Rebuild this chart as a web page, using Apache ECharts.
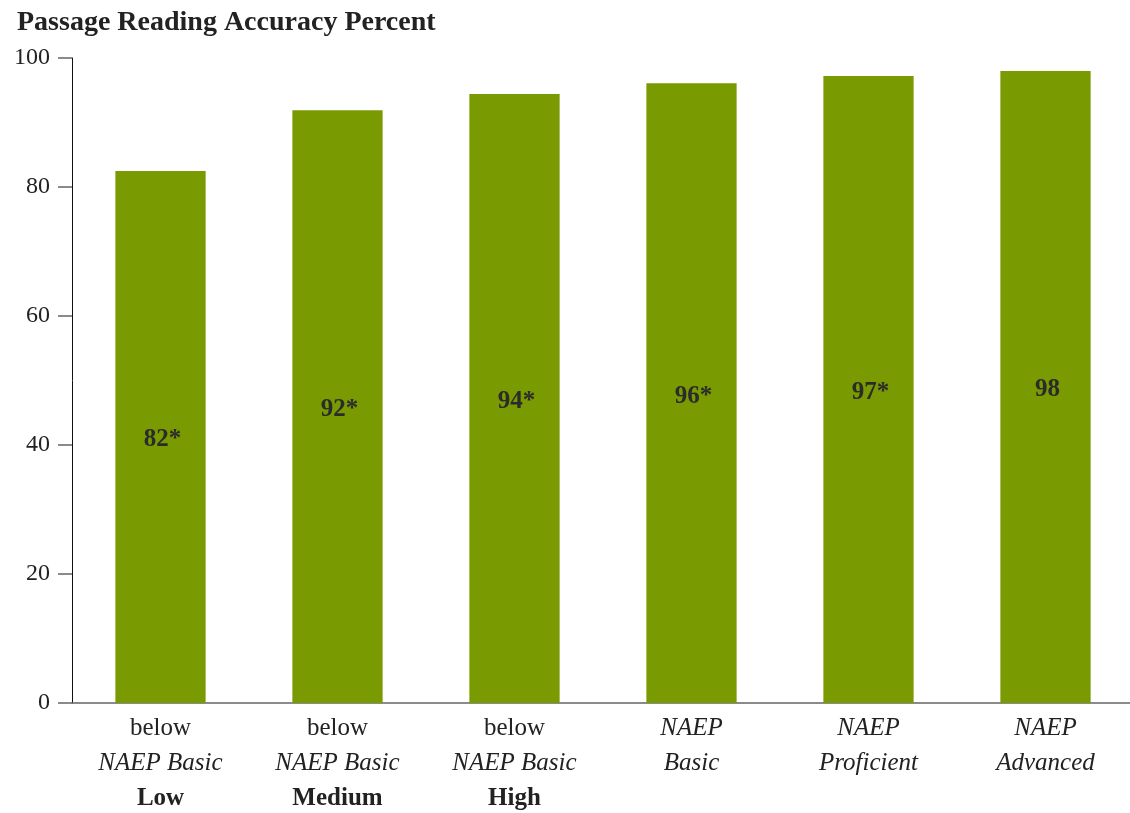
<!DOCTYPE html>
<html>
<head>
<meta charset="UTF-8">
<title>Passage Reading Accuracy Percent</title>
<script src="https://cdn.jsdelivr.net/npm/echarts@6/dist/echarts.min.js"></script>
<style>
  html, body { margin: 0; padding: 0; background: #fff; }
</style>
</head>
<body>
<div id="main" style="width:1130px;height:813px;"></div>
<script>
var categories = [
  'below\n{i|NAEP Basic}\n{b|Low}',
  'below\n{i|NAEP Basic}\n{b|Medium}',
  'below\n{i|NAEP Basic}\n{b|High}',
  '{i|NAEP}\n{i|Basic}\n ',
  '{i|NAEP}\n{i|Proficient}\n ',
  '{i|NAEP}\n{i|Advanced}\n '
];
var values = [82.5, 91.9, 94.4, 96.1, 97.2, 98.0];
var labels = ['82*', '92*', '94*', '96*', '97*', '98'];

var serif = 'Liberation Serif';
var myChart = echarts.init(document.getElementById('main'));

var option = {
  animation: false,
  title: {
    text: 'Passage Reading Accuracy Percent',
    left: 12,
    top: 4,
    textStyle: { fontFamily: serif, fontWeight: 'bold', fontSize: 28, color: '#222' }
  },
  grid: { left: 72, right: -4, top: 58, bottom: 110, outerBoundsMode: 'none', containLabel: false },
  xAxis: {
    type: 'category',
    data: categories,
    axisLine: { lineStyle: { color: '#666', width: 1.5 } },
    axisTick: { show: false },
    axisLabel: {
      interval: 0,
      margin: 8,
      fontFamily: serif,
      fontSize: 25,
      color: '#222',
      lineHeight: 35,
      rich: {
        i: { fontStyle: 'italic', fontFamily: serif, fontSize: 25, color: '#222', lineHeight: 35 },
        b: { fontWeight: 'bold', fontFamily: serif, fontSize: 25, color: '#222', lineHeight: 35 }
      }
    }
  },
  yAxis: {
    type: 'value',
    min: 0,
    max: 100,
    interval: 20,
    splitLine: { show: false },
    axisLine: { show: true, lineStyle: { color: '#111', width: 1 } },
    axisTick: { show: true, length: 14, lineStyle: { color: '#666', width: 1.5 } },
    axisLabel: { fontFamily: serif, fontSize: 24, color: '#222', margin: 22 }
  },
  series: [{
    type: 'bar',
    data: values,
    barWidth: '51%',
    itemStyle: { color: '#7a9a01' },
    label: {
      show: true,
      position: 'inside',
      offset: [2, 3],
      formatter: function (p) { return labels[p.dataIndex]; },
      fontFamily: serif,
      fontWeight: 'bold',
      fontSize: 25,
      color: '#2b2b2b'
    }
  }]
};
myChart.setOption(option);
</script>
</body>
</html>
